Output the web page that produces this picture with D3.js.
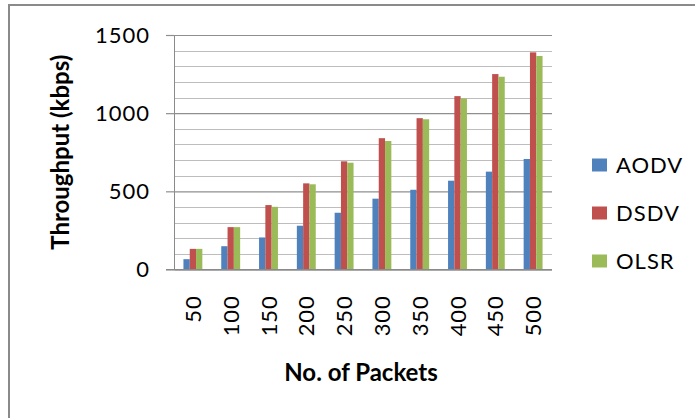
<!DOCTYPE html>
<html>
<head>
<meta charset="utf-8">
<script src="https://cdn.jsdelivr.net/npm/d3@7"></script>
<style>
  html, body { margin: 0; padding: 0; background: #fff; }
  svg { display: block; }
  text { font-family: Lato, "Open Sans", sans-serif; fill: #000; }
</style>
</head>
<body>
<svg id="chart" width="695" height="418"></svg>
<script>
// Throughput per routing protocol against the number of packets sent
const packets = ["50", "100", "150", "200", "250", "300", "350", "400", "450", "500"];
const protocols = ["AODV", "DSDV", "OLSR"];
const aodv = [66, 149, 205, 280, 363, 453, 510, 568, 626, 707];
const dsdv = [132, 271, 412, 551, 692, 840, 968, 1109, 1250, 1389];
const olsr = [132, 271, 401, 545, 683, 822, 961, 1094, 1233, 1366];
const yTicks = [0, 500, 1000, 1500];
const colors = ["#4f81bd", "#c0504d", "#9bbb59"];

const series = [aodv, dsdv, olsr];
const svg = d3.select("#chart");

// outer chart frame (runs off the right and bottom edges)
svg.append("rect")
  .attr("x", 9).attr("y", 5)
  .attr("width", 700).attr("height", 420)
  .attr("fill", "#fff").attr("stroke", "#8a8a8a").attr("stroke-width", 2);

const plot = { left: 174, right: 552, top: 35, bottom: 269.5 };

const x = d3.scaleBand().domain(packets).range([plot.left, plot.right]);
const bw = x.bandwidth();
const xInner = d3.scaleBand().domain(protocols).range([bw / 4, bw * 3 / 4]);
const y = d3.scaleLinear().domain([0, 1500]).range([plot.bottom, plot.top]);

// gridlines: minor every 100, major every 500
const grid = svg.append("g");
grid.selectAll("line.minor")
  .data(d3.range(100, 1500, 100).filter(v => v % 500 !== 0))
  .join("line")
  .attr("x1", plot.left).attr("x2", plot.right)
  .attr("y1", d => Math.round(y(d)) + 0.5).attr("y2", d => Math.round(y(d)) + 0.5)
  .attr("stroke", "#bdbdbd").attr("stroke-width", 1);

// y axis with major ticks drawn as full-width gridlines
const yAxis = d3.axisLeft(y).tickValues(yTicks).tickSize(-(plot.right - plot.left)).tickPadding(24)
  .tickFormat(d3.format("d"));
const gy = svg.append("g").attr("transform", `translate(${plot.left},0)`).call(yAxis);
gy.select(".domain").attr("stroke", "#8a8a8a");
gy.selectAll(".tick line").attr("stroke", "#8f8f8f").attr("stroke-width", 1.2);
gy.selectAll(".tick").append("line")
  .attr("x1", -8).attr("x2", 0).attr("stroke", "#8f8f8f").attr("stroke-width", 1.2);
gy.selectAll(".tick text")
  .attr("font-size", 22).attr("font-family", "Lato, sans-serif")
  .attr("fill", "#000").attr("letter-spacing", 1);

// bars
const groups = svg.append("g").selectAll("g")
  .data(packets)
  .join("g")
  .attr("transform", d => `translate(${x(d)},0)`);
groups.selectAll("rect")
  .data((d, i) => protocols.map((p, k) => ({ p, v: series[k][i], k })))
  .join("rect")
  .attr("x", d => xInner(d.p))
  .attr("width", xInner.bandwidth())
  .attr("y", d => y(d.v))
  .attr("height", d => y(0) - y(d.v))
  .attr("fill", d => colors[d.k]);

// x axis baseline and category labels
const xAxis = d3.axisBottom(x).tickSize(0).tickPadding(0);
const gx = svg.append("g").attr("transform", `translate(0,${plot.bottom})`).call(xAxis);
gx.select(".domain").remove();
svg.append("line")
  .attr("x1", plot.left - 8).attr("x2", plot.right)
  .attr("y1", plot.bottom).attr("y2", plot.bottom)
  .attr("stroke", "#8a8a8a").attr("stroke-width", 1.2);
gx.selectAll(".tick text")
  .attr("font-size", 22).attr("font-family", "Lato, sans-serif").attr("fill", "#000")
  .attr("letter-spacing", 0.8)
  .attr("text-anchor", "end")
  .attr("dy", null).attr("y", 0)
  .attr("transform", "translate(8,26) rotate(-90)");

// axis titles
svg.append("text")
  .attr("transform", `translate(69,${(plot.top + plot.bottom) / 2}) rotate(-90)`)
  .attr("text-anchor", "middle")
  .attr("font-size", 24).attr("font-weight", "bold")
  .text("Throughput (kbps)");
svg.append("text")
  .attr("x", 361).attr("y", 381)
  .attr("text-anchor", "middle")
  .attr("font-size", 24).attr("font-weight", "bold")
  .text("No. of Packets");

// legend
const legend = svg.append("g").selectAll("g")
  .data(protocols)
  .join("g")
  .attr("transform", (d, i) => `translate(592,${158.5 + i * 48})`);
legend.append("rect")
  .attr("width", 15).attr("height", 13)
  .attr("fill", (d, i) => colors[i]);
legend.append("text")
  .attr("x", 24).attr("y", 14)
  .attr("font-size", 22).attr("letter-spacing", 1)
  .text(d => d);
</script>
</body>
</html>
